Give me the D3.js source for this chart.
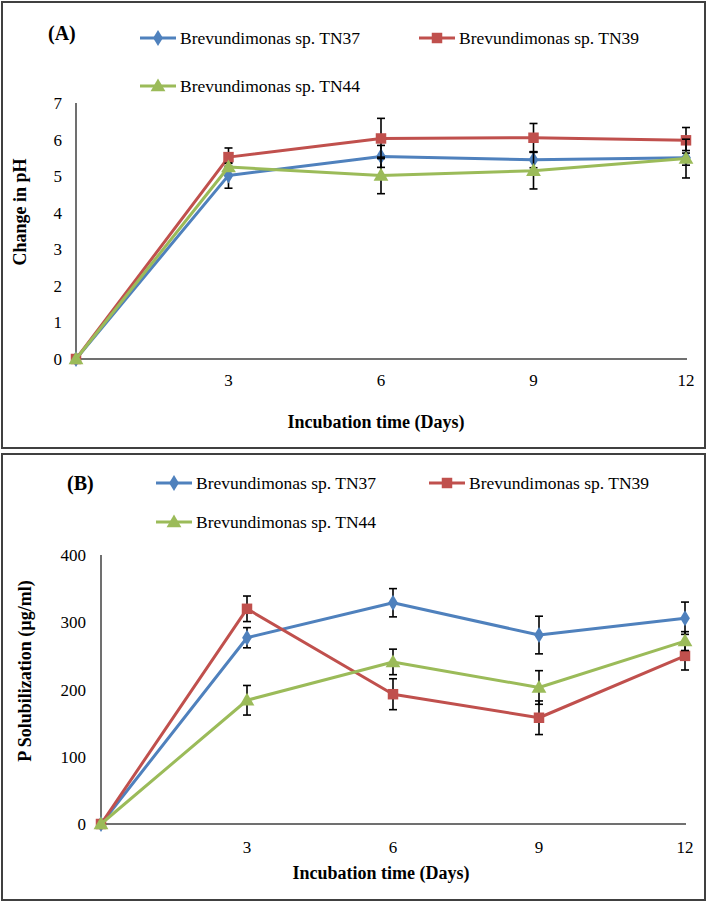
<!DOCTYPE html>
<html><head><meta charset="utf-8">
<script src="https://cdn.jsdelivr.net/npm/d3@7"></script>
<style>
html,body{margin:0;padding:0;background:#fff;}
svg{display:block;}
</style></head>
<body>
<svg id="chart" width="708" height="903"></svg>
<script>
// ---------- DATA ----------
const days = [0, 3, 6, 9, 12];
const xTickLabels = [3, 6, 9, 12];
const seriesNames = ["Brevundimonas sp. TN37", "Brevundimonas sp. TN39", "Brevundimonas sp. TN44"];

// Panel A: change in pH
const phTN37 = [0, 5.02, 5.54, 5.45, 5.50];
const phTN39 = [0, 5.52, 6.03, 6.05, 5.98];
const phTN44 = [0, 5.25, 5.02, 5.15, 5.48];
const phErrTN37 = [0, 0.35, 0.30, 0.22, 0.20];
const phErrTN39 = [0, 0.25, 0.55, 0.39, 0.35];
const phErrTN44 = [0, 0.10, 0.50, 0.50, 0.53];
const phTicks = [0, 1, 2, 3, 4, 5, 6, 7];

// Panel B: P solubilization (µg/ml)
const pTN37 = [0, 277, 329, 281, 306];
const pTN39 = [0, 320, 193, 158, 250];
const pTN44 = [0, 184, 241, 203, 272];
const pErrTN37 = [0, 15, 21, 28, 24];
const pErrTN39 = [0, 19, 23, 25, 21];
const pErrTN44 = [0, 22, 19, 25, 14];
const pTicks = [0, 100, 200, 300, 400];

// ---------- STYLE ----------
const FONT = "'Liberation Serif', 'Times New Roman', Tinos, Times, 'DejaVu Serif', serif";
const colors = ["#4F81BD", "#C0504D", "#9BBB59"];
const markerTypes = [d3.symbolDiamond, d3.symbolSquare, d3.symbolTriangle];
const markerSizes = [75, 110, 95];
const axisColor = "#404040";

const svg = d3.select("#chart").attr("font-family", FONT);

function marker(g, i, x, y) {
  const path = d3.symbol().type(markerTypes[i]).size(markerSizes[i])();
  const el = g.append("path").attr("d", path).attr("fill", colors[i]);
  if (i === 0) el.attr("transform", `translate(${x},${y}) scale(1.05,1)`);
  else if (i === 2) el.attr("transform", `translate(${x},${y + 1})`);
  else el.attr("transform", `translate(${x},${y})`);
}

function drawPanel(cfg) {
  svg.append("rect")
    .attr("x", cfg.box[0]).attr("y", cfg.box[1])
    .attr("width", cfg.box[2]).attr("height", cfg.box[3])
    .attr("fill", "none").attr("stroke", axisColor).attr("stroke-width", 2);

  const x = d3.scaleLinear().domain([0, 12]).range(cfg.xRange);
  const y = d3.scaleLinear().domain([0, cfg.ticks[cfg.ticks.length - 1]]).range(cfg.yRange);
  const g = svg.append("g").attr("font-family", FONT);

  g.append("line").attr("x1", x(0)).attr("x2", x(0))
    .attr("y1", y.range()[0]).attr("y2", y.range()[1])
    .attr("stroke", axisColor).attr("stroke-width", 1.5);
  g.append("line").attr("x1", x(0)).attr("x2", x(12) + 1)
    .attr("y1", y(0)).attr("y2", y(0))
    .attr("stroke", axisColor).attr("stroke-width", 1.5);

  g.selectAll(".ytl").data(cfg.ticks).join("text")
    .attr("x", cfg.yLabelX).attr("y", d => y(d) + 6)
    .attr("text-anchor", "end").attr("font-size", 17).text(d => d);

  g.selectAll(".xtl").data(xTickLabels).join("text")
    .attr("x", d => x(d)).attr("y", cfg.xLabelY)
    .attr("text-anchor", "middle").attr("font-size", 17).text(d => d);

  g.append("text").attr("x", cfg.xTitle[0]).attr("y", cfg.xTitle[1])
    .attr("text-anchor", "middle").attr("font-size", 18).attr("font-weight", "bold")
    .text("Incubation time (Days)");
  g.append("text")
    .attr("transform", `translate(${cfg.yTitle[0]},${cfg.yTitle[1]}) rotate(-90)`)
    .attr("text-anchor", "middle").attr("font-size", 18).attr("font-weight", "bold")
    .text(cfg.yTitleText);

  g.append("text").attr("x", cfg.label[0]).attr("y", cfg.label[1])
    .attr("font-size", 20).attr("font-weight", "bold").text(cfg.labelText);

  cfg.legend.forEach((p, i) => {
    const lg = g.append("g");
    lg.append("line").attr("x1", p[0]).attr("x2", p[0] + 36)
      .attr("y1", p[1]).attr("y2", p[1])
      .attr("stroke", colors[i]).attr("stroke-width", 3);
    marker(lg, i, p[0] + 18, p[1]);
    lg.append("text").attr("x", p[0] + 40).attr("y", p[1] + 6)
      .attr("font-size", 17.5).text(seriesNames[i]);
  });

  const line = d3.line().x((d, k) => x(days[k])).y(d => y(d));
  cfg.series.forEach((vals, i) => {
    const sg = g.append("g");
    sg.append("path").datum(vals).attr("d", line)
      .attr("fill", "none").attr("stroke", colors[i]).attr("stroke-width", 3)
      .attr("stroke-linejoin", "round");
    const errs = cfg.errors[i];
    vals.forEach((v, k) => {
      const e = errs[k];
      if (e > 0) {
        const cx = x(days[k]);
        const eg = sg.append("g").attr("stroke", "#000").attr("stroke-width", 1.6);
        eg.append("line").attr("x1", cx).attr("x2", cx).attr("y1", y(v - e)).attr("y2", y(v + e));
        eg.append("line").attr("x1", cx - 4).attr("x2", cx + 4).attr("y1", y(v - e)).attr("y2", y(v - e));
        eg.append("line").attr("x1", cx - 4).attr("x2", cx + 4).attr("y1", y(v + e)).attr("y2", y(v + e));
      }
    });
    vals.forEach((v, k) => marker(sg, i, x(days[k]), y(v)));
  });
}

drawPanel({
  box: [2, 2, 703, 446],
  xRange: [76, 686],
  yRange: [359, 103],
  ticks: phTicks,
  yLabelX: 62,
  xLabelY: 386,
  xTitle: [376, 428],
  yTitle: [26, 212],
  yTitleText: "Change in pH",
  label: [48, 40],
  labelText: "(A)",
  legend: [[140, 38], [419, 38], [140, 86]],
  series: [phTN37, phTN39, phTN44],
  errors: [phErrTN37, phErrTN39, phErrTN44]
});

drawPanel({
  box: [2, 454, 703, 446],
  xRange: [101, 685],
  yRange: [824, 555],
  ticks: pTicks,
  yLabelX: 86,
  xLabelY: 853,
  xTitle: [381, 879],
  yTitle: [31, 671],
  yTitleText: "P Solubilization (µg/ml)",
  label: [67, 490],
  labelText: "(B)",
  legend: [[156, 483], [429, 483], [156, 522]],
  series: [pTN37, pTN39, pTN44],
  errors: [pErrTN37, pErrTN39, pErrTN44]
});
</script>
</body></html>
